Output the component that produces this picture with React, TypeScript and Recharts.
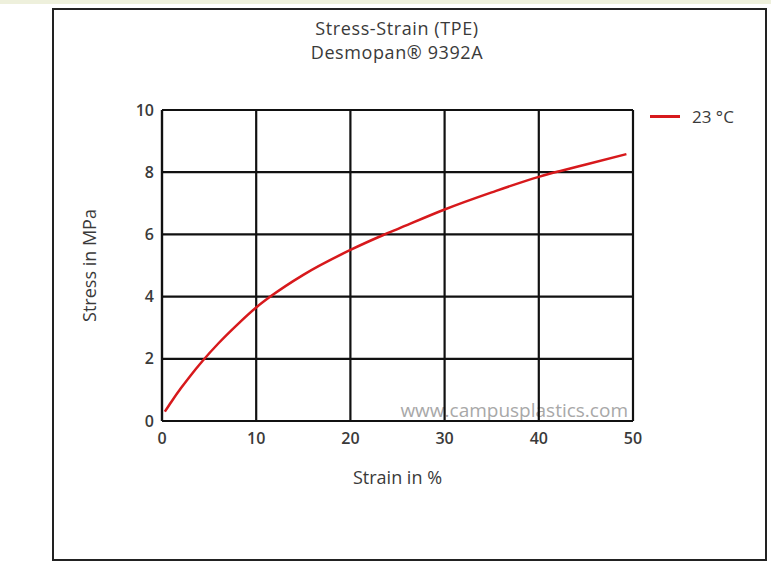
import { LineChart, Line, XAxis, YAxis, CartesianGrid, Legend } from 'recharts';

// strain in %, stress in MPa
const strain = [0.3, 1, 2, 3, 4.3, 6, 8, 10, 11.5, 15, 20, 23.5, 25, 30, 35, 40, 42.3, 45, 49.3];
const stress = [0.3, 0.62, 1.05, 1.45, 1.93, 2.5, 3.1, 3.65, 4.0, 4.7, 5.5, 5.98, 6.17, 6.8, 7.35, 7.85, 8.04, 8.25, 8.58];
const xTicks = [0, 10, 20, 30, 40, 50];
const yTicks = [0, 2, 4, 6, 8, 10];
const seriesName = '23 °C';

const data = strain.map((s, i) => ({ strain: s, stress: stress[i] }));

const FONT = '"Open Sans", "Noto Sans", sans-serif';
const TEXT = '#3a3a3a';

function LegendBox() {
  return (
    <div style={{ display: 'flex', alignItems: 'center', fontFamily: FONT, fontSize: 17, fontWeight: 500, color: TEXT }}>
      <span style={{ display: 'inline-block', width: 30, height: 3, background: '#d7191c', marginRight: 12 }} />
      <span>{seriesName}</span>
    </div>
  );
}

export default function App() {
  return (
    <div style={{ position: 'absolute', left: 0, top: 0, width: 771, height: 563, background: '#fff', overflow: 'hidden' }}>
      <div style={{ position: 'absolute', left: 0, top: 0, width: 771, height: 4, background: '#eef0dc' }} />
      <div style={{ position: 'absolute', left: 52, top: 8, width: 715, height: 553, border: '2px solid #222', boxSizing: 'border-box' }} />
      <div style={{ position: 'absolute', left: 52, top: 16, width: 690, textAlign: 'center', fontFamily: FONT, fontSize: 18, fontWeight: 500, letterSpacing: 0.6, lineHeight: '24px', color: TEXT }}>
        <div>Stress-Strain (TPE)</div>
        <div>Desmopan® 9392A</div>
      </div>
      <div style={{ position: 'absolute', left: 380, top: 397, width: 248, textAlign: 'right', fontFamily: FONT, fontSize: 19, color: '#a8a8a8' }}>
        www.campusplastics.com
      </div>
      <div style={{ position: 'absolute', left: 0, top: 0 }}>
        <LineChart width={771} height={563} data={data} margin={{ top: 110, right: 38, bottom: 94, left: 82 }}>
          <CartesianGrid stroke="#111" strokeWidth={2.2} />
          <XAxis
            dataKey="strain"
            type="number"
            domain={[0, 50]}
            ticks={xTicks}
            height={48}
            axisLine={{ stroke: '#111', strokeWidth: 2.2 }}
            tickLine={false}
            tickMargin={6}
            tick={{ fill: TEXT, fontSize: 16, fontFamily: FONT, fontWeight: 600 }}
            label={{ value: 'Strain in %', position: 'bottom', offset: 2, fill: TEXT, fontSize: 18, fontWeight: 500, fontFamily: FONT }}
          />
          <YAxis
            type="number"
            domain={[0, 10]}
            ticks={yTicks}
            width={80}
            axisLine={{ stroke: '#111', strokeWidth: 2.2 }}
            tickLine={false}
            tickMargin={2}
            tick={{ fill: TEXT, fontSize: 16, fontFamily: FONT, fontWeight: 600 }}
            label={{ value: 'Stress in MPa', angle: -90, position: 'insideLeft', offset: 8, fill: TEXT, fontSize: 18, fontWeight: 500, fontFamily: FONT, style: { textAnchor: 'middle' } }}
          />
          <Legend
            layout="vertical"
            verticalAlign="top"
            align="right"
            content={() => <LegendBox />}
            wrapperStyle={{ position: 'absolute', top: 105, left: 650, width: 100 }}
          />
          <Line
            type="monotone"
            dataKey="stress"
            name={seriesName}
            stroke="#d7191c"
            strokeWidth={2.5}
            dot={false}
            isAnimationActive={false}
          />
        </LineChart>
      </div>
    </div>
  );
}
